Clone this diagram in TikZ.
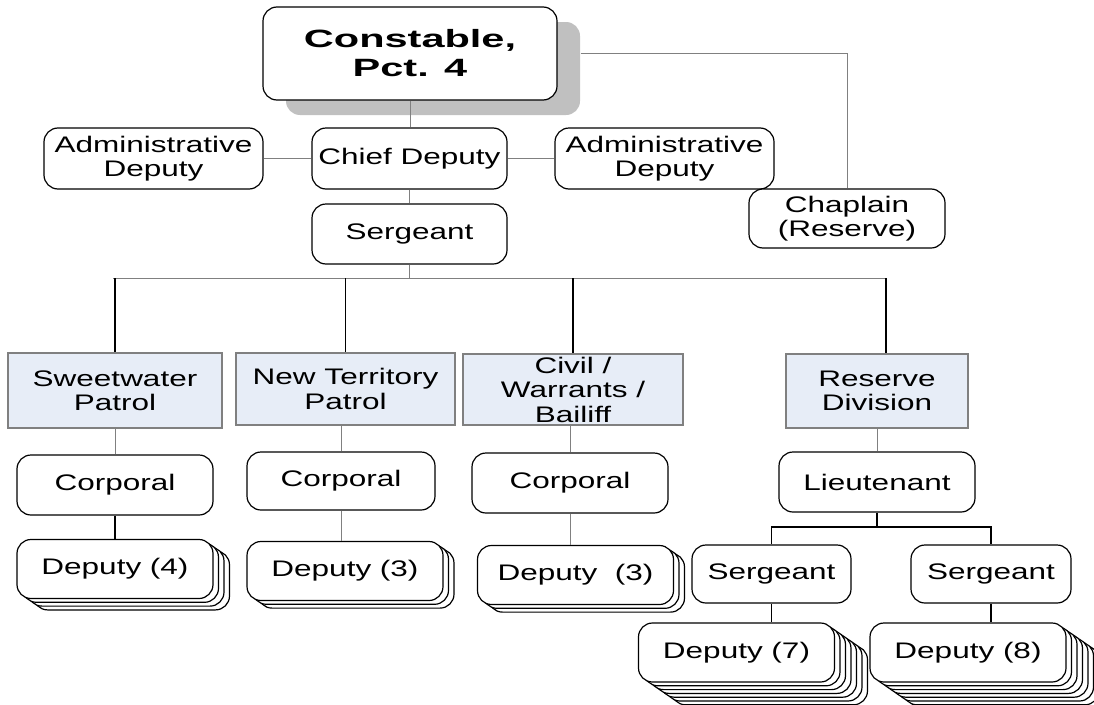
\documentclass[tikz,border=0pt]{standalone}
\usepackage{fontspec}
\setmainfont{Liberation Sans}[FakeStretch=1.4]
\newfontfamily\headfont{Liberation Sans}[FakeStretch=1.66]
\usetikzlibrary{shadows}
\definecolor{linkgray}{RGB}{128,128,128}
\definecolor{unitblue}{RGB}{231,237,247}
\definecolor{shadegray}{RGB}{192,192,192}

\begin{document}
\begin{tikzpicture}[x=1pt, y=-1pt,
  every node/.style={align=center, inner sep=0pt, font=\fontsize{22.5}{24.5}\selectfont},
  rank/.style={draw, rounded corners=14pt, line width=1.2pt, fill=white},
  unit/.style={draw=linkgray, fill=unitblue, line width=1.2pt},
  link/.style={draw=linkgray, line width=1pt},
  trunk/.style={draw=black, line width=1.5pt}]
\useasboundingbox (0,0) rectangle (1094,704);

\node[rank, minimum width=294, minimum height=93,
  drop shadow={shadow xshift=23pt, shadow yshift=-15pt, fill=shadegray, draw=none, opacity=1},
  font=\headfont\bfseries\fontsize{25}{29}\selectfont] (const) at (410,53.5) {Constable,\\Pct. 4};
\node[rank, minimum width=219, minimum height=61] (admL) at (153.5,158.5) {Administrative\\Deputy};
\node[rank, minimum width=195, minimum height=61] (chief) at (409.5,158.5) {Chief Deputy};
\node[rank, minimum width=219, minimum height=61] (admR) at (664.5,158.5) {Administrative\\Deputy};
\node[rank, minimum width=195, minimum height=60] (sgt) at (409.5,234) {Sergeant};
\node[rank, minimum width=196, minimum height=59] (chap) at (847,218.5) {Chaplain\\(Reserve)};

\node[unit, minimum width=214, minimum height=75] (sweet) at (115,390.5) {Sweetwater\\Patrol};
\node[unit, minimum width=219, minimum height=72] (newt) at (345.5,389) {New Territory\\Patrol};
\node[unit, minimum width=220, minimum height=71] (civil) at (573,389.5) {Civil /\\Warrants /\\Bailiff};
\node[unit, minimum width=182, minimum height=74] (resv) at (877,391) {Reserve\\Division};

\node[rank, minimum width=196, minimum height=60] (corp1) at (115,485) {Corporal};
\node[rank, minimum width=188, minimum height=58] (corp2) at (341,481) {Corporal};
\node[rank, minimum width=196, minimum height=60] (corp3) at (570,483) {Corporal};
\node[rank, minimum width=196, minimum height=60] (lieut) at (877,482) {Lieutenant};
\node[rank, minimum width=159, minimum height=58] (sgtL) at (771.5,574) {Sergeant};
\node[rank, minimum width=160, minimum height=58] (sgtR) at (991,574) {Sergeant};

\foreach \nm/\x/\y/\k/\txt in {dep4/115/569/4/Deputy (4), dep3a/345/571/3/Deputy (3),
    dep3b/575.5/575/3/Deputy~~(3), dep7/736.5/652.5/7/Deputy (7), dep8/968/652.5/8/Deputy (8)}{
  \foreach \i in {\k,...,2}
    \node[rank, minimum width=196, minimum height=59] (\nm-\i) at (\x+5.5*\i-5.5,\y+3.8*\i-3.8) {};
  \node[rank, minimum width=196, minimum height=59] (\nm) at (\x,\y) {\txt};
}

\coordinate (busL) at (113,278);
\coordinate (busR) at (886,278);
\coordinate (fork) at (877,527);

\draw[link] ([xshift=23]const.east) -| (chap.north);
\draw[link] (const.south) -- (const.south |- chief.north);
\draw[link] (admL) -- (chief) -- (admR);
\draw[link] (chief) -- (sgt);
\draw[link] (sgt.south) -- (sgt.south |- busL);
\draw[link] (busL) -- (busR);
\draw[trunk] (sweet.north |- busL) -- (sweet.north);
\draw[trunk] (newt.north |- busL) -- (newt.north);
\draw[trunk] (civil.north |- busL) -- (civil.north);
\draw[trunk] (busR) -- (busR |- resv.north);
\draw[link] (sweet) -- (corp1);
\draw[link] (corp2.north |- newt.south) -- (corp2.north);
\draw[link] (corp3.north |- civil.south) -- (corp3.north);
\draw[link] (resv) -- (lieut);
\draw[trunk] (corp1) -- (dep4);
\draw[link] (corp2.south) -- (corp2.south |- dep3a.north);
\draw[link] (corp3.south) -- (corp3.south |- dep3b.north);
\draw[trunk] (lieut.south) -- (fork);
\draw[trunk] (sgtL.north) |- (sgtR.north |- fork) -- (sgtR.north);
\draw[trunk] (sgtL.south) -- (sgtL.south |- dep7.north);
\draw[trunk] (sgtR.south) -- (sgtR.south |- dep8.north);
\end{tikzpicture}
\end{document}
